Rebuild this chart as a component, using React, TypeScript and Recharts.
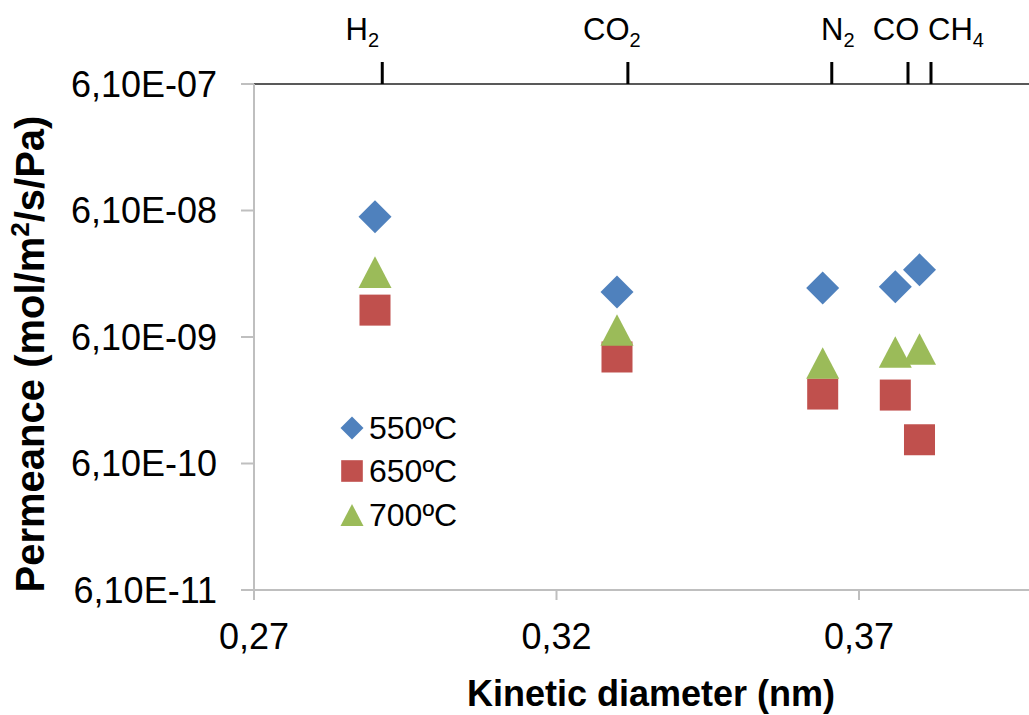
import React from 'react';
import { ScatterChart, Scatter, XAxis, YAxis, Legend } from 'recharts';

// ---------- data ----------
const gasNames = ['H2', 'CO2', 'N2', 'CO', 'CH4'];
const gasBase = ['H', 'CO', 'N', 'CO', 'CH'];
const gasSub = ['2', '2', '2', '', '4'];
const kineticDiameter = [0.29, 0.33, 0.364, 0.376, 0.38];
const gasTickPositions = [0.2912, 0.3318, 0.3655, 0.3781, 0.3819];
const perm550 = [5.45e-8, 1.385e-8, 1.49e-8, 1.52e-8, 2.07e-8];
const perm650 = [9.95e-9, 4.24e-9, 2.16e-9, 2.12e-9, 9.4e-10];
const perm700 = [1.99e-8, 6.93e-9, 3.8e-9, 4.64e-9, 4.9e-9];
const seriesNames = ['550ºC', '650ºC', '700ºC'];
const xTicks = [0.27, 0.32, 0.37];
const yTicks = [6.1e-11, 6.1e-10, 6.1e-9, 6.1e-8, 6.1e-7];
const xDomain = [0.27, 0.3981];
const yDomain = [6.1e-11, 6.1e-7];

// ---------- style ----------
const FONT = '"Liberation Sans", Arial, sans-serif';
const COLORS = ['#4F81BD', '#C0504D', '#9BBB59'];
const SHAPES = ['diamond', 'square', 'triangle'];
const TOP_LABEL_DX = [-20, -16, 6, -12, 25];

const toPoints = (vals: number[]) =>
  kineticDiameter.map((x, i) => ({ x, y: vals[i], gas: gasNames[i] }));
const seriesData = [toPoints(perm550), toPoints(perm650), toPoints(perm700)];

const fmtY = (v: number) => {
  const e = Math.floor(Math.log10(v) + 1e-9);
  const m = v / Math.pow(10, e);
  return m.toFixed(2).replace('.', ',') + 'E' + (e < 0 ? '-' : '+') + String(Math.abs(e)).padStart(2, '0');
};
const fmtX = (v: number) => v.toFixed(2).replace('.', ',');

function markerPath(kind: string, cx: number, cy: number, s: number) {
  if (kind === 'diamond') {
    const h = s / 2;
    return `M${cx},${cy - h} L${cx + h},${cy} L${cx},${cy + h} L${cx - h},${cy} Z`;
  }
  if (kind === 'square') {
    const h = s * 0.47;
    return `M${cx - h},${cy - h} L${cx + h},${cy - h} L${cx + h},${cy + h} L${cx - h},${cy + h} Z`;
  }
  const w = s / 2;
  const h = s * 0.48;
  return `M${cx},${cy - h} L${cx + w},${cy + h} L${cx - w},${cy + h} Z`;
}

const makeShape = (idx: number) => (props: any) => {
  const { cx, cy } = props;
  if (cx == null || cy == null) return <g />;
  return <path d={markerPath(SHAPES[idx], cx, cy, 33)} fill={COLORS[idx]} />;
};

const TopTick = (props: any) => {
  const { x, y, index } = props;
  return (
    <text
      x={x + TOP_LABEL_DX[index]}
      y={y - 20}
      textAnchor="middle"
      fontFamily={FONT}
      fontSize={31}
      fill="#000"
    >
      {gasBase[index]}
      {gasSub[index] ? (
        <tspan fontSize={20} dy={7}>
          {gasSub[index]}
        </tspan>
      ) : null}
    </text>
  );
};

const LegendContent = (props: any) => {
  const payload = props.payload || [];
  return (
    <div style={{ fontFamily: FONT }}>
      {seriesNames.map((name, i) => (
        <div key={name} style={{ display: 'flex', alignItems: 'center', height: 43.5 }}>
          <svg width={24} height={24} style={{ display: 'block' }}>
            <path d={markerPath(SHAPES[i], 12, 12, 23)} fill={COLORS[i]} />
          </svg>
          <span style={{ marginLeft: 5, fontSize: 32, color: '#000', lineHeight: '32px' }}>
            {payload[i] ? payload[i].value : name}
          </span>
        </div>
      ))}
    </div>
  );
};

export default function App() {
  return (
    <div style={{ position: 'absolute', left: 0, top: 0, width: 1029, height: 715, background: '#fff' }}>
      <ScatterChart
        width={1029}
        height={715}
        margin={{ top: 83, right: 0, bottom: 124, left: 253 }}
        style={{ fontFamily: FONT }}
      >
        <XAxis
          xAxisId="bottom"
          dataKey="x"
          type="number"
          domain={xDomain}
          ticks={xTicks}
          interval={0}
          allowDataOverflow
          height={1}
          tickFormatter={fmtX}
          tickSize={10}
          tickMargin={23}
          axisLine={{ stroke: '#BFBFBF', strokeWidth: 2 }}
          tickLine={{ stroke: '#BFBFBF', strokeWidth: 2 }}
          tick={{ fill: '#000', fontSize: 36, fontFamily: FONT }}
          label={{
            content: (p: any) => {
              const vb = p.viewBox || {};
              return (
                <text
                  x={651}
                  y={(vb.y || 590) + 116}
                  textAnchor="middle"
                  fontFamily={FONT}
                  fontWeight="bold"
                  fontSize={36}
                  fill="#000"
                >
                  Kinetic diameter (nm)
                </text>
              );
            },
          }}
        />
        <XAxis
          xAxisId="top"
          orientation="top"
          dataKey="x"
          type="number"
          domain={xDomain}
          ticks={gasTickPositions}
          interval={0}
          allowDataOverflow
          height={1}
          tickSize={22}
          axisLine={{ stroke: '#595959', strokeWidth: 2 }}
          tickLine={{ stroke: '#000', strokeWidth: 3 }}
          tick={<TopTick />}
        />
        <YAxis
          yAxisId="left"
          dataKey="y"
          type="number"
          scale="log"
          domain={yDomain}
          ticks={yTicks}
          interval={0}
          allowDataOverflow
          width={1}
          tickFormatter={fmtY}
          tickSize={13}
          tickMargin={24}
          axisLine={{ stroke: '#BFBFBF', strokeWidth: 2 }}
          tickLine={{ stroke: '#BFBFBF', strokeWidth: 2 }}
          tick={{ fill: '#000', fontSize: 36, fontFamily: FONT }}
          label={{
            content: () => (
              <text
                x={0}
                y={0}
                transform="translate(44, 354) rotate(-90)"
                textAnchor="middle"
                fontFamily={FONT}
                fontWeight="bold"
                fontSize={40}
                fill="#000"
              >
                Permeance (mol/m
                <tspan fontSize={26} dy={-15}>2</tspan>
                <tspan dy={15}>/s/Pa)</tspan>
              </text>
            ),
          }}
        />
        <Legend
          layout="vertical"
          verticalAlign="middle"
          align="center"
          content={<LegendContent />}
          wrapperStyle={{ position: 'absolute', left: 340, top: 406, width: 160, height: 131 }}
        />
        {seriesData.map((d, i) => (
          <Scatter
            key={seriesNames[i]}
            name={seriesNames[i]}
            data={d}
            xAxisId="bottom"
            yAxisId="left"
            fill={COLORS[i]}
            shape={makeShape(i)}
            isAnimationActive={false}
          />
        ))}
      </ScatterChart>
    </div>
  );
}
